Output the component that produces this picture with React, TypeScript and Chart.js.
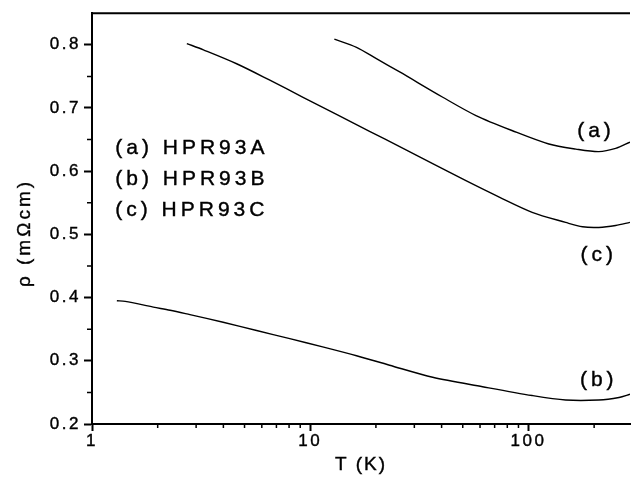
import { useEffect, useRef } from 'react';
import { Chart, registerables } from 'chart.js';

Chart.register(...registerables);

// T (K) and rho (mOhm cm)
const T_A = [12.9, 16.3, 20.1, 25.7, 40.5, 57.5, 84.5, 124, 165, 210, 251, 292];
const RHO_A = [0.809, 0.796, 0.778, 0.757, 0.717, 0.688, 0.664, 0.643, 0.635, 0.631, 0.636, 0.646];

const T_B = [1.3, 1.42, 1.91, 2.28, 2.81, 3.99, 5.68, 8.06, 11.4, 16.3, 23.1, 36.4, 61.6, 104, 148, 210, 260, 292];
const RHO_B = [0.395, 0.394, 0.385, 0.38, 0.373, 0.361, 0.348, 0.335, 0.322, 0.308, 0.293, 0.274, 0.259, 0.245, 0.238, 0.238, 0.242, 0.247];

const T_C = [2.72, 3.24, 4.6, 6.53, 9.27, 13.2, 18.7, 25.7, 36.4, 51.7, 73.5, 104, 148, 177, 210, 251, 292];
const RHO_C = [0.802, 0.792, 0.77, 0.744, 0.717, 0.69, 0.663, 0.639, 0.612, 0.585, 0.559, 0.535, 0.519, 0.512, 0.511, 0.514, 0.519];

const X_MAJOR = [1, 10, 100];
const X_MINOR = [2, 3, 4, 5, 6, 7, 8, 9, 20, 30, 40, 50, 60, 70, 80, 90, 200];
const Y_MAJOR = [0.2, 0.3, 0.4, 0.5, 0.6, 0.7, 0.8];
const Y_MINOR = [0.25, 0.35, 0.45, 0.55, 0.65, 0.75];

const LEGEND = ['(a) HPR93A', '(b) HPR93B', '(c) HPR93C'];
const LEGEND_AT = { t: 1.278, rho: [0.637, 0.588, 0.538] };
const CURVE_TAGS = [
  { text: '(a)', t: 204, rho: 0.664 },
  { text: '(c)', t: 210, rho: 0.467 },
  { text: '(b)', t: 210, rho: 0.27 }
];
const X_TITLE = 'T (K)';
const Y_TITLE = 'ρ (mΩcm)';

const FONT = '"Liberation Sans", Arial, sans-serif';

const pts = (xs: number[], ys: number[]) => xs.map((x, i) => ({ x, y: ys[i] }));

const heavyText = (ctx: CanvasRenderingContext2D, s: string, x: number, y: number) => {
  ctx.fillText(s, x, y);
  ctx.strokeText(s, x, y);
};

const extras = {
  id: 'extras',
  beforeDraw(chart: any) {
    chart.ctx.letterSpacing = '2.5px';
  },
  afterDraw(chart: any) {
    const { ctx, chartArea, scales } = chart;
    const x = scales.x;
    const y = scales.y;
    ctx.save();
    ctx.strokeStyle = '#000';
    ctx.lineWidth = 2;
    // top frame line
    ctx.beginPath();
    ctx.moveTo(chartArea.left - 1, chartArea.top);
    ctx.lineTo(chartArea.right, chartArea.top);
    ctx.stroke();
    // minor ticks
    ctx.lineWidth = 1.5;
    ctx.beginPath();
    X_MINOR.forEach((v) => {
      const px = x.getPixelForValue(v);
      ctx.moveTo(px, chartArea.bottom);
      ctx.lineTo(px, chartArea.bottom + 4);
    });
    Y_MINOR.forEach((v) => {
      const py = y.getPixelForValue(v);
      ctx.moveTo(chartArea.left, py);
      ctx.lineTo(chartArea.left - 5, py);
    });
    ctx.stroke();
    // legend text and curve tags
    ctx.fillStyle = '#000';
    ctx.lineWidth = 0.4;
    ctx.font = `21px ${FONT}`;
    ctx.letterSpacing = '4px';
    ctx.textBaseline = 'middle';
    ctx.textAlign = 'left';
    LEGEND.forEach((s, i) => {
      heavyText(ctx, s, x.getPixelForValue(LEGEND_AT.t), y.getPixelForValue(LEGEND_AT.rho[i]));
    });
    ctx.textAlign = 'center';
    CURVE_TAGS.forEach((c) => {
      heavyText(ctx, c.text, x.getPixelForValue(c.t), y.getPixelForValue(c.rho));
    });
    // axis titles
    ctx.font = `19px ${FONT}`;
    ctx.letterSpacing = '2px';
    heavyText(ctx, X_TITLE, (chartArea.left + chartArea.right) / 2, 465);
    ctx.letterSpacing = '3px';
    ctx.translate(25, 233);
    ctx.rotate(-Math.PI / 2);
    heavyText(ctx, Y_TITLE, 0, 0);
    ctx.restore();
  }
};

export default function App() {
  const ref = useRef<HTMLCanvasElement | null>(null);

  useEffect(() => {
    if (!ref.current) return;
    const line = (data: any) => ({
      data,
      borderColor: '#000',
      borderWidth: 1.4,
      pointRadius: 0,
      tension: 0.3,
      fill: false
    });
    const tickFont = { family: FONT, size: 17 };
    const chart = new Chart(ref.current, {
      type: 'line',
      data: {
        datasets: [line(pts(T_A, RHO_A)), line(pts(T_B, RHO_B)), line(pts(T_C, RHO_C))]
      },
      options: {
        animation: false,
        responsive: true,
        maintainAspectRatio: false,
        layout: { padding: { top: 13, right: 1, left: 0, bottom: 0 } },
        plugins: { legend: { display: false }, tooltip: { enabled: false } },
        scales: {
          x: {
            type: 'logarithmic',
            min: 1,
            max: 292,
            afterBuildTicks: (s: any) => {
              s.ticks = X_MAJOR.map((v) => ({ value: v }));
            },
            afterFit: (s: any) => {
              s.height = 59;
            },
            grid: { drawOnChartArea: false, tickLength: 7, tickWidth: 2, tickColor: '#000' },
            border: { display: true, width: 2, color: '#000' },
            ticks: {
              color: '#000',
              padding: 0,
              maxRotation: 0,
              textStrokeColor: '#000',
              textStrokeWidth: 0.4,
              font: tickFont,
              callback: (v: any) => String(v)
            }
          },
          y: {
            type: 'linear',
            min: 0.2,
            max: 0.85,
            afterBuildTicks: (s: any) => {
              s.ticks = Y_MAJOR.map((v) => ({ value: v }));
            },
            afterFit: (s: any) => {
              s.width = 92;
            },
            grid: { drawOnChartArea: false, tickLength: 8, tickWidth: 2, tickColor: '#000' },
            border: { display: true, width: 2, color: '#000' },
            ticks: {
              color: '#000',
              padding: 3,
              textStrokeColor: '#000',
              textStrokeWidth: 0.4,
              font: tickFont,
              callback: (v: any) => Number(v).toFixed(1)
            }
          }
        }
      },
      plugins: [extras]
    });
    return () => chart.destroy();
  }, []);

  return (
    <div style={{ position: 'absolute', left: 0, top: 0, width: 631, height: 483, background: '#fff' }}>
      <canvas ref={ref}></canvas>
    </div>
  );
}
